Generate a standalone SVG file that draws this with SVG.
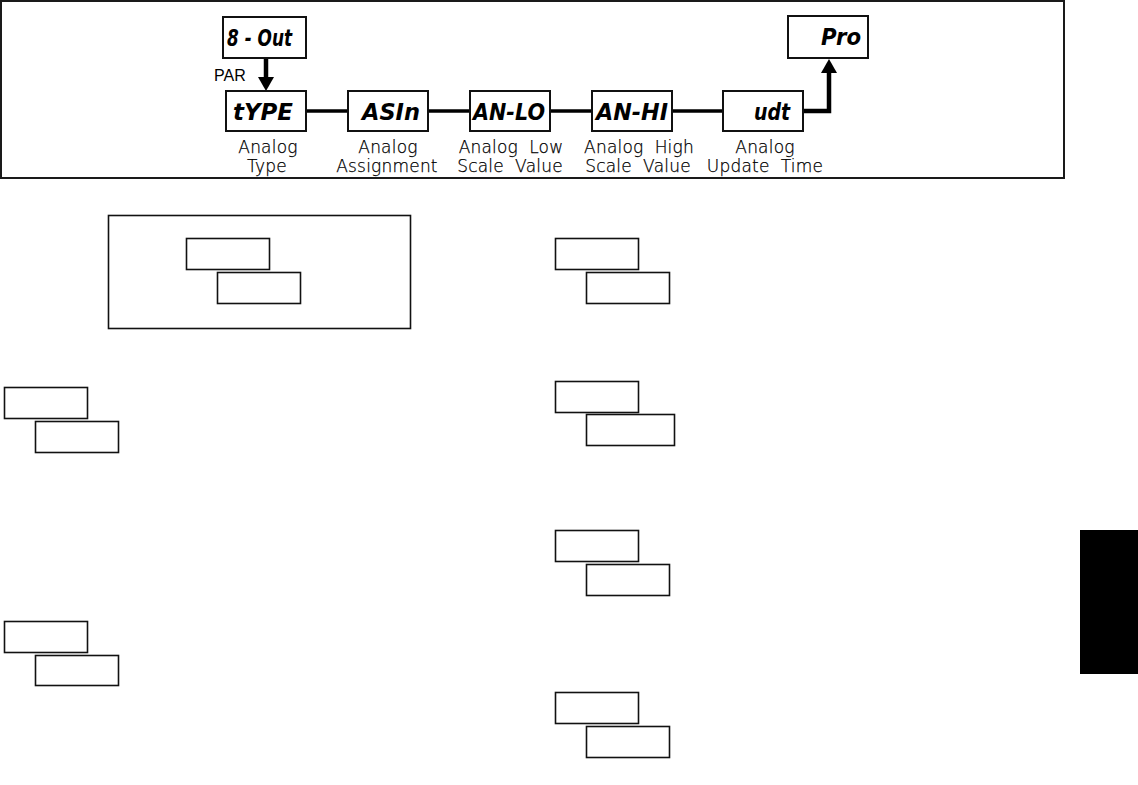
<svg xmlns="http://www.w3.org/2000/svg" width="1138" height="785" viewBox="0 0 1138 785">
<style>
.frame{fill:none;stroke:#1a1a1a;stroke-width:2}
.box{fill:#fff;stroke:#111;stroke-width:2}
.seg{font-family:"DejaVu Sans",sans-serif;font-weight:bold;font-style:italic;font-size:23px;fill:#000}
.lbl{font-family:"DejaVu Sans",sans-serif;font-weight:200;font-size:17px;fill:#000;stroke:#000;stroke-width:0.25;text-anchor:middle;letter-spacing:0.2px}
.par{font-family:"Liberation Sans",Arial,sans-serif;font-size:16px;fill:#000}
.conn{fill:none;stroke:#000;stroke-width:3.5}
.shaft{fill:none;stroke:#000;stroke-width:4.5}
.head{fill:#000}
.ebox{fill:none;stroke:#111;stroke-width:1.6}
</style>
<rect class="frame" x="1" y="1" width="1063" height="177"/>
<g id="connectors">
<line class="shaft" x1="266" y1="58" x2="266" y2="80"/>
<polygon class="head" points="258,77 274,77 266,91"/>
<line class="conn" x1="306" y1="111" x2="347" y2="111"/>
<line class="conn" x1="428" y1="111" x2="469" y2="111"/>
<line class="conn" x1="550" y1="111" x2="592" y2="111"/>
<line class="conn" x1="672" y1="111" x2="723" y2="111"/>
<polyline class="shaft" points="803,111 829,111 829,70"/>
<polygon class="head" points="821,73 837,73 829,59"/>
</g>
<text class="par" x="214" y="81">PAR</text>
<g id="n-8out">
<rect class="box" x="223" y="17" width="83" height="41"/>
<text class="seg" x="227" y="46" textLength="65" lengthAdjust="spacingAndGlyphs">8 - Out</text>
</g>
<g id="n-pro">
<rect class="box" x="788" y="16" width="80" height="42"/>
<text class="seg" x="821" y="45" textLength="40" lengthAdjust="spacingAndGlyphs">Pro</text>
</g>
<g id="n-type">
<rect class="box" x="226" y="91" width="80" height="40"/>
<text class="seg" x="233" y="120" textLength="60" lengthAdjust="spacingAndGlyphs">tYPE</text>
<text class="lbl" x="268" y="153">Analog</text>
<text class="lbl" x="267" y="172">Type</text>
</g>
<g id="n-asin">
<rect class="box" x="348" y="91" width="80" height="40"/>
<text class="seg" x="362" y="120" textLength="58" lengthAdjust="spacingAndGlyphs">ASIn</text>
<text class="lbl" x="388" y="153">Analog</text>
<text class="lbl" x="387" y="172">Assignment</text>
</g>
<g id="n-anlo">
<rect class="box" x="470" y="91" width="80" height="40"/>
<text class="seg" x="473" y="120" textLength="72" lengthAdjust="spacingAndGlyphs">AN-LO</text>
<text class="lbl" x="511" y="153" xml:space="preserve">Analog  Low</text>
<text class="lbl" x="510" y="172" xml:space="preserve">Scale  Value</text>
</g>
<g id="n-anhi">
<rect class="box" x="592" y="91" width="80" height="40"/>
<text class="seg" x="596" y="120" textLength="72" lengthAdjust="spacingAndGlyphs">AN-HI</text>
<text class="lbl" x="639" y="153" xml:space="preserve">Analog  High</text>
<text class="lbl" x="638" y="172" xml:space="preserve">Scale  Value</text>
</g>
<g id="n-udt">
<rect class="box" x="723" y="91" width="80" height="40"/>
<text class="seg" x="754" y="120" textLength="36" lengthAdjust="spacingAndGlyphs">udt</text>
<text class="lbl" x="765" y="153">Analog</text>
<text class="lbl" x="765" y="172" xml:space="preserve">Update  Time</text>
</g>
<g id="lower">
<rect class="ebox" x="108.5" y="215.5" width="302" height="113"/>
<rect class="ebox" x="186.5" y="238.5" width="83" height="31"/>
<rect class="ebox" x="217.5" y="272.5" width="83" height="31"/>
<rect class="ebox" x="4.5" y="387.5" width="83" height="31"/>
<rect class="ebox" x="35.5" y="421.5" width="83" height="31"/>
<rect class="ebox" x="4.5" y="621.5" width="83" height="31"/>
<rect class="ebox" x="35.5" y="655.5" width="83" height="30"/>
<rect class="ebox" x="555.5" y="238.5" width="83" height="31"/>
<rect class="ebox" x="586.5" y="272.5" width="83" height="31"/>
<rect class="ebox" x="555.5" y="381.5" width="83" height="31"/>
<rect class="ebox" x="586.5" y="414.5" width="88" height="31"/>
<rect class="ebox" x="555.5" y="530.5" width="83" height="31"/>
<rect class="ebox" x="586.5" y="564.5" width="83" height="31"/>
<rect class="ebox" x="555.5" y="692.5" width="83" height="31"/>
<rect class="ebox" x="586.5" y="726.5" width="83" height="31"/>
<rect x="1080" y="530" width="58" height="144" fill="#000"/>
</g>
</svg>
